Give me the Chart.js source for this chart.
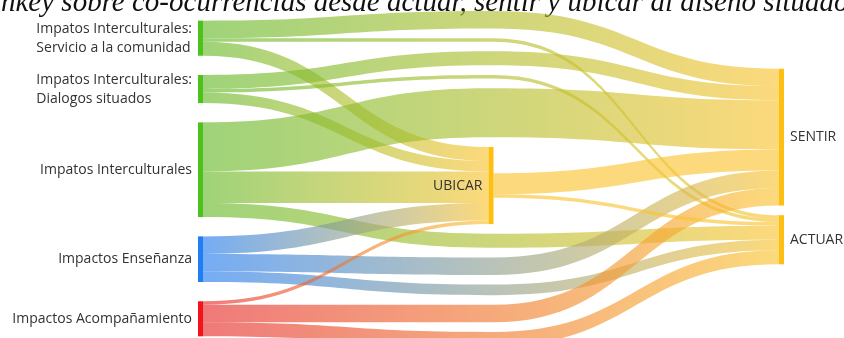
<!DOCTYPE html>
<html><head><meta charset="utf-8">
<script src="https://cdn.jsdelivr.net/npm/chart.js@4.4.1/dist/chart.umd.min.js"></script>
<style>html,body{margin:0;padding:0;background:#fff;overflow:hidden;height:338px}canvas{display:block}</style>
</head><body>
<canvas id="c" width="844" height="346"></canvas>
<script>
// ---------------- data ----------------
const titleText = "Diagrama de Sankey sobre co-ocurrencias desde actuar, sentir y ubicar al diseño situado";
const nodeLabels = [
  "Impatos Interculturales: Servicio a la comunidad",
  "Impatos Interculturales: Dialogos situados",
  "Impatos Interculturales",
  "Impactos Enseñanza",
  "Impactos Acompañamiento",
  "UBICAR",
  "SENTIR",
  "ACTUAR"
];
const flowFrom   = [0, 0, 0,  1, 1, 1,  2, 2, 2,  3, 3, 3,  4, 4, 4,  5, 5];
const flowTo     = [6, 7, 5,  6, 7, 5,  6, 5, 7,  5, 6, 7,  5, 6, 7,  6, 7];
const flowValues = [5, 1, 4,  4, 1, 3, 14, 9, 4,  5, 5, 3,  1, 5, 4,  6, 1];

// ---------------- styles ----------------
const GREEN = {node: '#4cc21c', link: [104, 186, 46]};
const BLUE  = {node: '#1f7ff2', link: [38, 125, 240]};
const RED   = {node: '#f2141a', link: [230, 46, 46]};
const AMBER = {node: '#fcbf12', link: [250, 196, 50]};
const nodeStyles = [GREEN, GREEN, GREEN, BLUE, RED, AMBER, AMBER, AMBER];
const LINK_ALPHA = 0.64;
const LAYOUT = {nodeWidth: 5, nodePadding: 2.75, relax: 0.8};
const FONT = '14px "Open Sans"';
const TEXT_COLOR = '#333333';

// ---------------- layout ----------------
function sum(a, f) { return a.reduce((s, x) => s + f(x), 0); }
function buildLayout() {
  const nodes = nodeLabels.map((label, i) => ({i, label, style: nodeStyles[i], sourceLinks: [], targetLinks: [], depth: 0}));
  const flows = flowFrom.map((f, k) => ({source: nodes[f], target: nodes[flowTo[k]], value: flowValues[k], segs: []}));
  let changed = true;
  while (changed) {
    changed = false;
    flows.forEach(f => { if (f.target.depth < f.source.depth + 1) { f.target.depth = f.source.depth + 1; changed = true; } });
  }
  const maxDepth = Math.max(...nodes.map(n => n.depth));
  nodes.forEach(n => { if (!flows.some(f => f.source === n)) n.depth = maxDepth; });
  const all = nodes.slice();
  flows.forEach(f => {
    let prev = f.source;
    for (let d = f.source.depth + 1; d < f.target.depth; d++) {
      const dummy = {dummy: true, depth: d, sourceLinks: [], targetLinks: [], value: f.value, flow: f};
      all.push(dummy);
      const s = {source: prev, target: dummy, value: f.value, width: f.value, flow: f};
      prev.sourceLinks.push(s); dummy.targetLinks.push(s); f.segs.push(s);
      prev = dummy;
    }
    const s = {source: prev, target: f.target, value: f.value, width: f.value, flow: f};
    prev.sourceLinks.push(s); f.target.targetLinks.push(s); f.segs.push(s);
  });
  all.forEach(n => { if (!n.dummy) n.value = Math.max(sum(n.sourceLinks, l => l.value), sum(n.targetLinks, l => l.value)); });

  const columns = [];
  all.forEach(n => { (columns[n.depth] = columns[n.depth] || []).push(n); });
  const py = LAYOUT.nodePadding;
  const extent = Math.max(...columns.map(c => sum(c, n => n.value) + (c.length - 1) * py));
  const Y0 = 0, Y1 = extent;
  const center = n => (n.y0 + n.y1) / 2;

  function distribute(c) {
    let y = Y0;
    c.forEach(n => { n.y0 = y; n.y1 = y + n.value; y = n.y1 + py; });
    const k = (Y1 - y + py) / (c.length + 1);
    c.forEach((n, i) => { n.y0 += k * (i + 1); n.y1 += k * (i + 1); });
  }
  function stack(c) {
    let y = Y0;
    c.forEach(n => { n.y0 = y; n.y1 = y + n.value; y = n.y1 + py; });
  }
  function ports(n) {
    let y = n.y0 + (n.value - sum(n.sourceLinks, l => l.width)) / 2;
    n.sourceLinks.forEach(l => { l.ys = y; y += l.width; });
    y = n.y0 + (n.value - sum(n.targetLinks, l => l.width)) / 2;
    n.targetLinks.forEach(l => { l.yt = y; y += l.width; });
  }
  const prov = new Map();
  columns.forEach(c => {
    const real = c.filter(n => !n.dummy);
    distribute(real);
    real.forEach(n => prov.set(n, center(n)));
  });
  const provKey = l => prov.get(l.target.dummy ? l.flow.target : l.target);
  distribute(columns[0]);

  for (let d = 1; d < columns.length; d++) {
    const prevCol = columns[d - 1];
    prevCol.forEach(n => { n.sourceLinks.sort((a, b) => provKey(a) - provKey(b)); ports(n); });
    const c = columns[d];
    c.forEach(n => {
      n.key = sum(n.targetLinks, l => (l.ys + l.width / 2) * l.value) / sum(n.targetLinks, l => l.value);
    });
    c.sort((a, b) => a.key - b.key);
    stack(c);
    c.forEach(n => n.targetLinks.sort((a, b) => a.source.y0 - b.source.y0));
    c.forEach(n => {
      let off = (n.value - sum(n.targetLinks, l => l.width)) / 2, y = 0, w = 0;
      n.targetLinks.forEach(l => { y += (l.ys - off) * l.value; w += l.value; off += l.width; });
      const dy = (y / w - n.y0) * LAYOUT.relax;
      n.y0 += dy; n.y1 += dy;
    });
    let y = Y0;
    c.forEach(n => { const dy = y - n.y0; if (dy > 0) { n.y0 += dy; n.y1 += dy; } y = n.y1 + py; });
    y = Y1;
    for (let i = c.length - 1; i >= 0; i--) { const n = c[i]; const dy = n.y1 - y; if (dy > 0) { n.y0 -= dy; n.y1 -= dy; } y = n.y0 - py; }
  }
  all.forEach(n => { n.sourceLinks.sort((a, b) => a.target.y0 - b.target.y0); n.targetLinks.sort((a, b) => a.source.y0 - b.source.y0); });
  all.forEach(ports);
  return {nodes, flows, extent, maxDepth};
}
const LAYOUT_RESULT = buildLayout();

// ---------------- Chart.js controller ----------------
function rgba(c, a) { return 'rgba(' + c[0] + ',' + c[1] + ',' + c[2] + ',' + a + ')'; }
class SankeyLiteController extends Chart.DatasetController {
  static id = 'sankeyLite';
  static defaults = {datasetElementType: false, dataElementType: 'point'};
  parseObjectData(meta, data, start, count) {
    const out = [];
    for (let i = 0; i < count; i++) { const d = data[start + i]; out.push({x: 0, y: d.flow}); }
    return out;
  }
  update() {}
  draw() {
    const chart = this.chart, ctx = chart.ctx;
    const xs = chart.scales.x, ys = chart.scales.y;
    const L = LAYOUT_RESULT, nw = LAYOUT.nodeWidth;
    const colX = d => xs.getPixelForValue(d) - nw * d / L.maxDepth;
    ctx.save();
    L.flows.forEach(f => {
      const top = [], bot = [];
      f.segs.forEach(s => {
        const xa = colX(s.source.depth) + nw, xb = colX(s.target.depth);
        top.push({xa, xb, ya: ys.getPixelForValue(s.ys), yb: ys.getPixelForValue(s.yt)});
        bot.push({xa, xb, ya: ys.getPixelForValue(s.ys + s.width), yb: ys.getPixelForValue(s.yt + s.width)});
      });
      ctx.beginPath();
      top.forEach((t, i) => {
        const xm = (t.xa + t.xb) / 2;
        if (i === 0) ctx.moveTo(t.xa, t.ya); else ctx.lineTo(t.xa, t.ya);
        ctx.bezierCurveTo(xm, t.ya, xm, t.yb, t.xb, t.yb);
      });
      for (let i = bot.length - 1; i >= 0; i--) {
        const b = bot[i], xm = (b.xa + b.xb) / 2;
        ctx.lineTo(b.xb, b.yb);
        ctx.bezierCurveTo(xm, b.yb, xm, b.ya, b.xa, b.ya);
      }
      ctx.closePath();
      const g = ctx.createLinearGradient(top[0].xa, 0, top[top.length - 1].xb, 0);
      g.addColorStop(0, rgba(f.source.style.link, LINK_ALPHA));
      g.addColorStop(1, rgba(f.target.style.link, LINK_ALPHA));
      ctx.fillStyle = g;
      ctx.fill();
    });
    L.nodes.forEach(n => {
      const x = colX(n.depth);
      const ya = ys.getPixelForValue(n.y0), yb = ys.getPixelForValue(n.y1);
      ctx.fillStyle = n.style.node;
      ctx.fillRect(x, ya, nw, yb - ya);
    });
    ctx.restore();
  }
}
Chart.register(SankeyLiteController);

function wrapLines(ctx, text, maxW) {
  const words = text.split(' '); const lines = []; let cur = '';
  words.forEach(w => {
    const t = cur ? cur + ' ' + w : w;
    if (cur && ctx.measureText(t).width > maxW) { lines.push(cur); cur = w; } else cur = t;
  });
  if (cur) lines.push(cur);
  return lines;
}

const labelPlugin = {
  id: 'sankeyLabels',
  beforeDatasetsDraw(chart) {
    const ctx = chart.ctx;
    ctx.save();
    ctx.font = 'italic 29px "Liberation Serif"';
    ctx.fillStyle = '#111';
    ctx.textBaseline = 'alphabetic';
    ctx.textAlign = 'left';
    const cut = ctx.measureText('Diagrama de Sa').width;
    ctx.fillText(titleText, -cut + 1, 11);
    ctx.restore();
  },
  afterDatasetsDraw(chart) {
    const ctx = chart.ctx, xs = chart.scales.x, ys = chart.scales.y;
    const L = LAYOUT_RESULT, nw = LAYOUT.nodeWidth;
    const colX = d => xs.getPixelForValue(d) - nw * d / L.maxDepth;
    const lh = 19;
    ctx.save();
    ctx.font = FONT; ctx.fillStyle = TEXT_COLOR; ctx.textBaseline = 'middle';
    L.nodes.forEach(n => {
      const x = colX(n.depth);
      const cy = (ys.getPixelForValue(n.y0) + ys.getPixelForValue(n.y1)) / 2;
      if (n.depth === L.maxDepth) {
        ctx.textAlign = 'left';
        ctx.fillText(n.label, x + nw + 6, cy);
      } else {
        const right = x - 6;
        const lines = wrapLines(ctx, n.label, right - 4);
        const bw = Math.max(...lines.map(l => ctx.measureText(l).width));
        ctx.textAlign = 'left';
        lines.forEach((l, i) => ctx.fillText(l, right - bw, cy + (i - (lines.length - 1) / 2) * lh));
      }
    });
    ctx.restore();
  }
};

new Chart(document.getElementById('c'), {
  type: 'sankeyLite',
  data: {
    datasets: [{
      data: flowFrom.map((f, k) => ({from: nodeLabels[f], to: nodeLabels[flowTo[k]], flow: flowValues[k]})),
      clip: false
    }]
  },
  options: {
    responsive: false,
    animation: false,
    devicePixelRatio: 1,
    events: [],
    layout: {padding: {left: 198, right: 60, top: 11, bottom: 0}},
    plugins: {legend: {display: false}, tooltip: {enabled: false}, title: {display: false}},
    scales: {
      x: {type: 'linear', min: 0, max: LAYOUT_RESULT.maxDepth, display: false},
      y: {type: 'linear', min: 0, max: LAYOUT_RESULT.extent, reverse: true, display: false}
    }
  },
  plugins: [labelPlugin]
});
</script>
</body></html>
